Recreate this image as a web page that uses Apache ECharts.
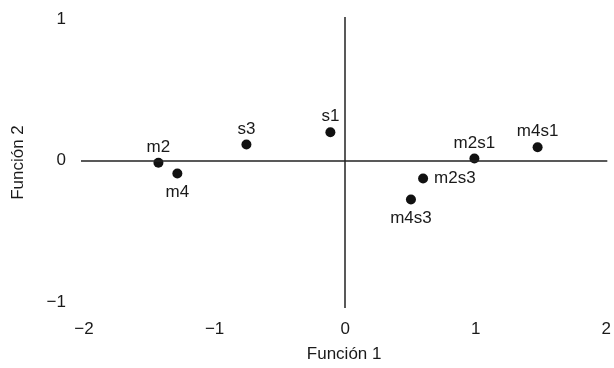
<!DOCTYPE html>
<html>
<head>
<meta charset="utf-8">
<script src="https://cdn.jsdelivr.net/npm/echarts@6/dist/echarts.min.js"></script>
<style>
  html, body { margin: 0; padding: 0; background: #fff; }
  #main { width: 614px; height: 368px; }
</style>
</head>
<body>
<div id="main"></div>
<script>
// point names and their coordinates on the two functions
var names = ['m2', 'm4', 's3', 's1', 'm2s1', 'm4s1', 'm2s3', 'm4s3'];
var funcion1 = [-1.43, -1.285, -0.756, -0.113, 0.99, 1.474, 0.597, 0.504];
var funcion2 = [-0.016, -0.092, 0.113, 0.2, 0.014, 0.094, -0.127, -0.275];
var labelPos = ['top', 'bottom', 'top', 'top', 'top', 'top', 'right', 'bottom'];
var xTicks = [-2, -1, 0, 1, 2];
var yTicks = [-1, 0, 1];

var dist = { top: 2, bottom: 5, right: 6 };
var pts = names.map(function (n, i) {
    return {
        name: n,
        value: [funcion1[i], funcion2[i]],
        label: { position: labelPos[i], distance: dist[labelPos[i]] }
    };
});

var myChart = echarts.init(document.getElementById('main'), null, { renderer: 'canvas' });

var txt = { color: '#1a1a1a', fontFamily: 'Liberation Sans', fontSize: 17 };
var minus = function (v) { return String(v).replace('-', '\u2212'); };

var option = {
    animation: false,
    grid: { left: 81, right: 1, top: 17, bottom: 59 },
    xAxis: {
        type: 'value', min: -2.023, max: 2.008,
        name: 'Función 1', nameLocation: 'middle', nameGap: 38,
        nameTextStyle: txt,
        axisLine: { show: false }, axisTick: { show: false }, splitLine: { show: false },
        axisLabel: Object.assign({ margin: 13, customValues: xTicks, formatter: minus }, txt)
    },
    yAxis: {
        type: 'value', min: -1.042, max: 1.014,
        name: 'Función 2', nameLocation: 'middle', nameGap: 54,
        nameTextStyle: txt,
        axisLine: { show: false }, axisTick: { show: false }, splitLine: { show: false },
        axisLabel: Object.assign({ margin: 15, customValues: yTicks, formatter: minus }, txt)
    },
    series: [{
        type: 'scatter',
        symbolSize: 10,
        itemStyle: { color: '#111', opacity: 1 },
        label: Object.assign({ show: true, formatter: '{b}' }, txt),
        data: pts,
        markLine: {
            silent: true,
            symbol: 'none',
            label: { show: false },
            lineStyle: { color: '#222', width: 1.5, type: 'solid', opacity: 1 },
            data: [{ xAxis: 0 }, { yAxis: 0 }]
        }
    }]
};
myChart.setOption(option);
</script>
</body>
</html>
